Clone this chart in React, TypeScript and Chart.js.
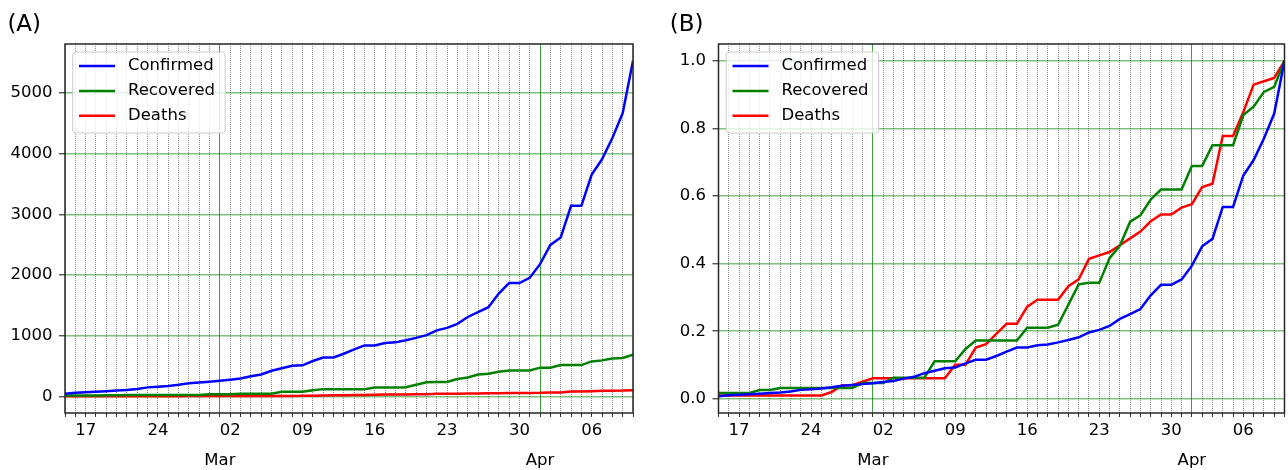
import React, { useEffect, useRef } from 'react';
import { Chart, registerables } from 'chart.js';

Chart.register(...registerables);

const FONT = '"DejaVu Sans", "Liberation Sans", sans-serif';

// Categories: one point per day
const DATES = [
  '2020-02-15', '2020-02-16', '2020-02-17', '2020-02-18', '2020-02-19', '2020-02-20', '2020-02-21',
  '2020-02-22', '2020-02-23', '2020-02-24', '2020-02-25', '2020-02-26', '2020-02-27', '2020-02-28',
  '2020-02-29', '2020-03-01', '2020-03-02', '2020-03-03', '2020-03-04', '2020-03-05', '2020-03-06',
  '2020-03-07', '2020-03-08', '2020-03-09', '2020-03-10', '2020-03-11', '2020-03-12', '2020-03-13',
  '2020-03-14', '2020-03-15', '2020-03-16', '2020-03-17', '2020-03-18', '2020-03-19', '2020-03-20',
  '2020-03-21', '2020-03-22', '2020-03-23', '2020-03-24', '2020-03-25', '2020-03-26', '2020-03-27',
  '2020-03-28', '2020-03-29', '2020-03-30', '2020-03-31', '2020-04-01', '2020-04-02', '2020-04-03',
  '2020-04-04', '2020-04-05', '2020-04-06', '2020-04-07', '2020-04-08', '2020-04-09', '2020-04-10',
];

const CONFIRMED = [
  43, 59, 66, 74, 84, 94, 105, 122, 147, 159, 170, 189, 214, 228, 241,
  256, 274, 293, 331, 360, 420, 461, 502, 511, 581, 639, 639, 701, 773, 839, 839,
  878, 889, 924, 963, 1007, 1086, 1128, 1193, 1307, 1387, 1468, 1693, 1866, 1866, 1953,
  2178, 2495, 2617, 3139, 3139, 3654, 3906, 4257, 4667, 5530,
];

const RECOVERED = [
  12, 12, 12, 12, 18, 18, 22, 22, 22, 22, 22, 22, 22, 22, 32,
  32, 32, 43, 43, 43, 43, 76, 76, 76, 101, 118, 118, 118, 118, 118, 144,
  144, 144, 150, 191, 232, 235, 235, 285, 310, 359, 372, 404, 424, 424, 424,
  472, 472, 514, 514, 514, 575, 592, 622, 632, 685,
];

const DEATHS = [
  1, 1, 1, 1, 1, 1, 1, 1, 1, 1, 1, 2, 4, 4, 5,
  6, 6, 6, 6, 6, 6, 6, 6, 10, 10, 15, 16, 19, 22, 22, 27,
  29, 29, 29, 33, 35, 41, 42, 43, 45, 47, 49, 52, 54, 54, 56,
  57, 62, 63, 77, 77, 84, 92, 93, 94, 99,
];

const SERIES_NAMES = ['Confirmed', 'Recovered', 'Deaths'];
const SERIES_COLORS = ['#0000ff', '#008000', '#ff0000'];

const Y_TICKS_A = [0, 1000, 2000, 3000, 4000, 5000];
const Y_TICKS_B = [0, 0.2, 0.4, 0.6, 0.8, 1.0];
const PANEL_TITLES = ['(A)', '(B)'];
const MONTH_NAMES = ['Jan', 'Feb', 'Mar', 'Apr', 'May', 'Jun', 'Jul', 'Aug', 'Sep', 'Oct', 'Nov', 'Dec'];

// Weekly (Monday) day labels, month labels at month starts
const DAY_LABELS = DATES.map((d) => {
  const dt = new Date(d + 'T00:00:00Z');
  return dt.getUTCDay() === 1 ? d.slice(8, 10) : '';
});
const MONTH_IDX: number[] = [];
const MONTH_LABELS: string[] = [];
DATES.forEach((d, i) => {
  if (d.slice(8, 10) === '01') {
    MONTH_IDX.push(i);
    MONTH_LABELS.push(MONTH_NAMES[parseInt(d.slice(5, 7), 10) - 1]);
  }
});

const framePlugin = {
  id: 'frame',
  afterDatasetsDraw(chart: any) {
    const { ctx, chartArea } = chart;
    const { left, top, right, bottom } = chartArea;
    ctx.save();
    ctx.strokeStyle = '#262626';
    ctx.lineWidth = 1.5;
    ctx.strokeRect(left, top, right - left, bottom - top);
    ctx.restore();
  },
};

const boxLegendPlugin = {
  id: 'boxLegend',
  afterDatasetsDraw(chart: any) {
    const { ctx, chartArea } = chart;
    const { left, top } = chartArea;
    ctx.save();
    const x = left + 7.7;
    const y = top + 8;
    const w = 152.5;
    const h = 81;
    ctx.beginPath();
    if (ctx.roundRect) ctx.roundRect(x, y, w, h, 3);
    else ctx.rect(x, y, w, h);
    ctx.fillStyle = 'rgba(255,255,255,0.8)';
    ctx.fill();
    ctx.strokeStyle = '#cccccc';
    ctx.lineWidth = 1;
    ctx.stroke();
    chart.data.datasets.forEach((ds: any, i: number) => {
      const cy = top + 22 + i * 24.9;
      ctx.beginPath();
      ctx.moveTo(left + 14, cy);
      ctx.lineTo(left + 50, cy);
      ctx.strokeStyle = ds.borderColor;
      ctx.lineWidth = 2.5;
      ctx.stroke();
      ctx.fillStyle = '#000';
      ctx.font = '16.5px ' + FONT;
      ctx.textBaseline = 'middle';
      ctx.textAlign = 'left';
      ctx.fillText(ds.label, left + 63, cy);
    });
    ctx.restore();
  },
};

type PanelCfg = {
  title: string;
  series: number[][];
  yTicks: number[];
  yFmt: (v: number) => string;
  padLeft: number;
  yWidth: number;
  padRight: number;
};

function autoRange(series: number[][]) {
  let mn = Infinity;
  let mx = -Infinity;
  series.forEach((s) => s.forEach((v) => { mn = Math.min(mn, v); mx = Math.max(mx, v); }));
  const m = (mx - mn) * 0.05;
  return [mn - m, mx + m];
}

function buildConfig(p: PanelCfg): any {
  const n = DATES.length;
  const [yMin, yMax] = autoRange(p.series);
  return {
    type: 'line',
    data: {
      datasets: p.series.map((s, k) => ({
        label: SERIES_NAMES[k],
        data: s.map((v, i) => ({ x: i, y: v })),
        borderColor: SERIES_COLORS[k],
        backgroundColor: SERIES_COLORS[k],
        borderWidth: 2.5,
        pointRadius: 0,
        tension: 0,
        fill: false,
      })),
    },
    options: {
      animation: false,
      responsive: false,
      devicePixelRatio: 1,
      events: [],
      layout: { padding: { left: p.padLeft, right: p.padRight, top: 0, bottom: 0 } },
      plugins: {
        legend: { display: false },
        tooltip: { enabled: false },
        title: {
          display: true,
          text: p.title,
          align: 'start',
          color: '#000',
          font: { family: FONT, size: 23, weight: 'normal' },
          padding: { top: 10.9, bottom: 5.5 },
        },
      },
      scales: {
        x: {
          type: 'linear',
          position: 'bottom',
          weight: 0,
          min: 0,
          max: n - 1,
          afterBuildTicks: (s: any) => { s.ticks = DATES.map((_, i) => ({ value: i })); },
          afterFit: (s: any) => { s.height = 30; },
          ticks: {
            autoSkip: false,
            maxRotation: 0,
            minRotation: 0,
            padding: 3.5,
            color: '#000',
            font: { family: FONT, size: 16.5 },
            callback: (v: number) => DAY_LABELS[Math.round(v)] ?? '',
          },
          grid: {
            color: (c: any) => (c.tick && MONTH_IDX.includes(Math.round(c.tick.value)) ? 'rgba(0,0,0,0)' : '#8c8c8c'),
            lineWidth: 1,
            tickLength: 4,
            tickColor: '#333',
            tickWidth: 1,
            borderDash: [1, 1],
          },
          border: { display: false, dash: [1, 1] },
        },
        xm: {
          type: 'linear',
          position: 'bottom',
          weight: 1,
          min: 0,
          max: n - 1,
          afterBuildTicks: (s: any) => { s.ticks = MONTH_IDX.map((i) => ({ value: i })); },
          afterFit: (s: any) => { s.height = 27; },
          ticks: {
            autoSkip: false,
            maxRotation: 0,
            minRotation: 0,
            padding: 7.4,
            color: '#000',
            font: { family: FONT, size: 16.5 },
            callback: (v: number) => {
              const k = MONTH_IDX.indexOf(Math.round(v));
              return k >= 0 ? MONTH_LABELS[k] : '';
            },
          },
          grid: { color: '#3f9f3f', lineWidth: 1, drawTicks: false },
          border: { display: false },
        },
        y: {
          type: 'linear',
          position: 'left',
          min: yMin,
          max: yMax,
          afterBuildTicks: (s: any) => { s.ticks = p.yTicks.map((v) => ({ value: v })); },
          afterFit: (s: any) => { s.width = p.yWidth; },
          ticks: {
            padding: 6.5,
            color: '#000',
            font: { family: FONT, size: 16.5 },
            callback: (v: number) => p.yFmt(v),
          },
          grid: {
            color: 'rgba(0,128,0,0.5)',
            lineWidth: 1.5,
            tickLength: 6,
            tickColor: '#333',
            tickWidth: 1.2,
          },
          border: { display: false },
        },
      },
    },
    plugins: [framePlugin, boxLegendPlugin],
  };
}

function Panel({ cfg, left }: { cfg: PanelCfg; left: number }) {
  const ref = useRef<HTMLCanvasElement | null>(null);
  useEffect(() => {
    if (!ref.current) return;
    const chart = new Chart(ref.current, buildConfig(cfg));
    return () => chart.destroy();
  }, []);
  return (
    <canvas
      ref={ref}
      width={644}
      height={470}
      style={{ position: 'absolute', left, top: 0, width: 644, height: 470 }}
    />
  );
}

const maxOf = (a: number[]) => Math.max(...a);

export default function App() {
  const panelA: PanelCfg = {
    title: PANEL_TITLES[0],
    series: [CONFIRMED, RECOVERED, DEATHS],
    yTicks: Y_TICKS_A,
    yFmt: (v) => String(Math.round(v)),
    padLeft: 7.4,
    yWidth: 57.6,
    padRight: 11,
  };
  const panelB: PanelCfg = {
    title: PANEL_TITLES[1],
    series: [CONFIRMED, RECOVERED, DEATHS].map((s) => {
      const m = maxOf(s);
      return s.map((v) => v / m);
    }),
    yTicks: Y_TICKS_B,
    yFmt: (v) => v.toFixed(1),
    padLeft: 25.8,
    yWidth: 48.7,
    padRight: 1.8,
  };
  return (
    <div style={{ position: 'fixed', left: 0, top: 0, width: 1288, height: 470, background: '#fff', overflow: 'hidden' }}>
      <Panel cfg={panelA} left={0} />
      <Panel cfg={panelB} left={644} />
    </div>
  );
}
